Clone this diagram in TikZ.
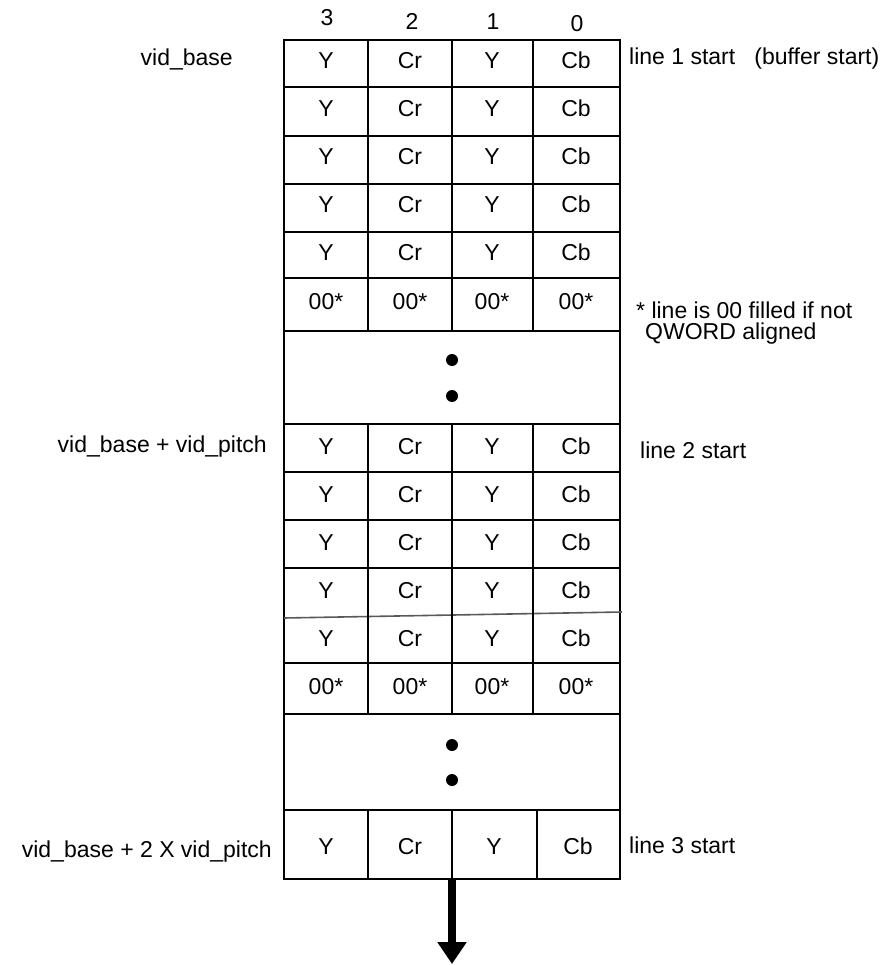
\documentclass[tikz,border=0pt]{standalone}
\usepackage{fontspec}
\setmainfont{Liberation Sans}
\usetikzlibrary{arrows.meta}
\begin{document}
\begin{tikzpicture}[x=1pt,y=-1pt,
  gridline/.style={line width=2.2pt},
  cell/.style={font=\fontsize{23}{26}\selectfont, inner sep=0pt, text height=16pt, text depth=0pt},
  lbl/.style={font=\fontsize{23}{26}\selectfont, inner sep=0pt},
  dotmark/.style={fill=black},
  bigarrow/.style={line width=8pt, -{Triangle[width=28pt,length=22pt]}}]
\useasboundingbox (0,0) rectangle (888,965);

% column headers
\node[cell] (h3) at (327,18) {3};
\node[cell] (h2) at (412,22) {2};
\node[cell] (h1) at (493,22) {1};
\node[cell] (h0) at (577,24) {0};

% outer frame
\draw[gridline] (284,40) rectangle (620,879);

% horizontal lines
\foreach \yy in {87,136,184,232,278,331,424,472,520,568,663,714,810}
  \draw[gridline] (284,\yy) -- (620,\yy);
\draw[line width=1.6pt, draw=black!65] (284,618) -- (622,612);

% vertical lines
\foreach \xx in {368,452,533} {
  \draw[gridline] (\xx,40) -- (\xx,331);
  \draw[gridline] (\xx,424) -- (\xx,714);
}
\foreach \xx in {368,452,537}
  \draw[gridline] (\xx,810) -- (\xx,879);

% block 1 cells
\foreach \yy [count=\r] in {61,109,157,205,253} {
  \node[cell] (a\r y) at (326,\yy) {Y};
  \node[cell] (a\r r) at (410,\yy) {Cr};
  \node[cell] (a\r u) at (492,\yy) {Y};
  \node[cell] (a\r b) at (576,\yy) {Cb};
}
\foreach \xx [count=\c] in {326,410,492,576}
  \node[cell] (az\c) at (\xx,301) {00*};

% block 2 cells
\foreach \yy [count=\r] in {446,494,542,590,638} {
  \node[cell] (b\r y) at (326,\yy) {Y};
  \node[cell] (b\r r) at (410,\yy) {Cr};
  \node[cell] (b\r u) at (492,\yy) {Y};
  \node[cell] (b\r b) at (576,\yy) {Cb};
}
\foreach \xx [count=\c] in {326,410,492,576}
  \node[cell] (bz\c) at (\xx,686) {00*};

% last row
\node[cell] (c1y) at (326,846) {Y};
\node[cell] (c1r) at (410,846) {Cr};
\node[cell] (c1u) at (494,846) {Y};
\node[cell] (c1b) at (578,846) {Cb};

% dots
\fill[dotmark] (452,360) circle (6);
\fill[dotmark] (452,396) circle (6);
\fill[dotmark] (452,745) circle (6);
\fill[dotmark] (452,780) circle (6);

% left labels
\node[lbl, anchor=east] (l1) at (233,59) {vid\_base};
\node[lbl, anchor=east] (l2) at (267,447) {vid\_base + vid\_pitch};
\node[lbl, anchor=east] (l3) at (272,852) {vid\_base + 2 X vid\_pitch};

% right labels
\node[lbl, anchor=west] (r1) at (629,59) {line 1 start\ \ \ (buffer start)};
\node[lbl, anchor=west] (r2a) at (636,310) {* line is 00 filled if not};
\node[lbl, anchor=west] (r2b) at (645,334) {QWORD aligned};
\node[lbl, anchor=west] (r3) at (640,450) {line 2 start};
\node[lbl, anchor=west] (r4) at (629,845) {line 3 start};

% arrow
\coordinate (arrS) at (452,878);
\coordinate (arrE) at (452,964);
\draw[bigarrow] (arrS) -- (arrE);
\end{tikzpicture}
\end{document}
